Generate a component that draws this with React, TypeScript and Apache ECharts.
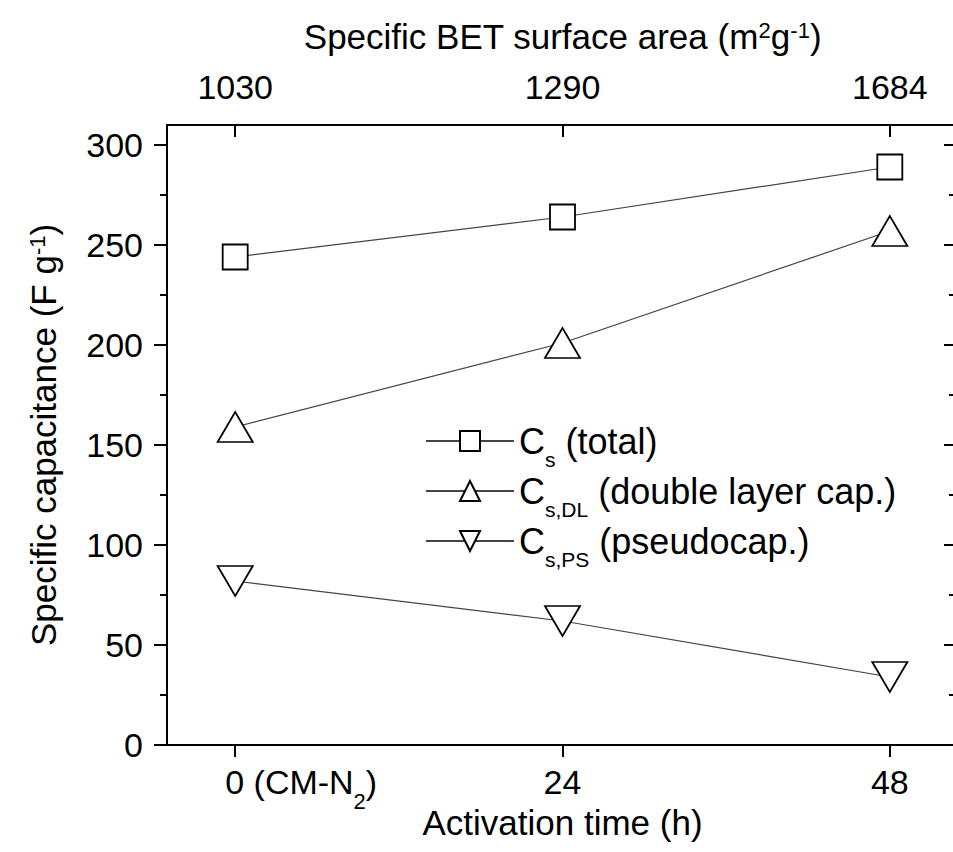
import React, { useEffect, useRef } from 'react';
import * as echarts from 'echarts';

const hours = [0, 24, 48];
const hourLabels = ['0 (CM-N|2|)', '24', '48'];
const betArea = ['1030', '1290', '1684'];
const csTotal = [244, 264, 289];
const csDL = [159, 201, 257];
const csPS = [82, 62, 34];
const yMajor = [0, 50, 100, 150, 200, 250, 300];
const yMinor = [25, 75, 125, 175, 225, 275];
const legendNames = ['C_s (total)', 'C_s,DL (double layer cap.)', 'C_s,PS (pseudocap.)'];

const FONT = 'Liberation Sans';

function legendRich(name: string): string {
  const m = name.match(/^C_(\S+) (.*)$/);
  if (!m) return name;
  return `{a|C}{sub|${m[1]}}{a| ${m[2]}}`;
}

export default function App() {
  const ref = useRef<HTMLDivElement>(null);
  useEffect(() => {
    if (!ref.current) return;
    const chart = echarts.init(ref.current, undefined, { renderer: 'svg' });
    const black = '#000';
    const markerStyle = { color: '#fff', borderColor: '#000', borderWidth: 1.8 };
    const lineStyle = { color: '#444', width: 1.2 };
    const mkData = (vals: number[]) => hours.map((h, i) => [h, vals[i]]);
    const yBase = {
      type: 'value', min: 0, max: 310, interval: 50,
      splitLine: { show: false }, nameMoveOverlap: false,
    };
    const supRich = {
      a: { fontFamily: FONT, fontSize: 35, lineHeight: 40, color: black },
      sup: { fontFamily: FONT, fontSize: 22, lineHeight: 10, verticalAlign: 'top', padding: [3, 0, 0, 0], color: black },
    };
    const option: any = {
      animation: false,
      textStyle: { fontFamily: FONT, color: black },
      grid: { left: 167, top: 125, width: 791, height: 620, containLabel: false, outerBoundsMode: 'none' },
      legend: {
        orient: 'vertical', left: 420, top: 416,
        itemWidth: 88, itemHeight: 25, itemGap: 1,
        symbolRotate: 'inherit',
        data: legendNames,
        formatter: (n: string) => legendRich(n),
        textStyle: {
          fontFamily: FONT, fontSize: 36, color: black,
          rich: {
            a: { fontFamily: FONT, fontSize: 36, lineHeight: 40, color: black },
            sub: { fontFamily: FONT, fontSize: 21, lineHeight: 10, verticalAlign: 'top', padding: [28, 0, 0, 0], color: black },
          },
        },
      },
      xAxis: [
        {
          type: 'value', min: -5, max: 53, position: 'bottom', nameMoveOverlap: false,
          splitLine: { show: false },
          axisLine: { onZero: false, lineStyle: { color: black, width: 2 } },
          axisTick: { customValues: hours, length: 12, inside: false, lineStyle: { color: black, width: 2 } },
          axisLabel: {
            customValues: hours, margin: 17, color: black,
            formatter: (v: number) => {
              const s = hourLabels[hours.indexOf(v)] ?? '';
              const parts = s.split('|');
              if (parts.length === 3) return `{pad| }{a|${parts[0]}}{sub|${parts[1]}}{a|${parts[2]}}`;
              return `{a|${s}}`;
            },
            rich: {
              pad: { width: 132, fontSize: 34 },
              a: { fontFamily: FONT, fontSize: 34, lineHeight: 40, color: black },
              sub: { fontFamily: FONT, fontSize: 22, lineHeight: 10, verticalAlign: 'top', padding: [28, 0, 0, 0], color: black },
            },
          },
          name: 'Activation time (h)', nameLocation: 'middle', nameGap: 60,
          nameTextStyle: { fontFamily: FONT, fontSize: 35, color: black },
        },
        {
          type: 'value', min: -5, max: 53, position: 'top', nameMoveOverlap: false,
          splitLine: { show: false },
          axisLine: { onZero: false, lineStyle: { color: black, width: 2 } },
          axisTick: { customValues: hours, length: 12, inside: true, lineStyle: { color: black, width: 2 } },
          axisLabel: {
            customValues: hours, margin: 18, color: black,
            formatter: (v: number) => `{a|${betArea[hours.indexOf(v)] ?? ''}}`,
            rich: { a: { fontFamily: FONT, fontSize: 34, lineHeight: 40, color: black } },
          },
          name: '{a|Specific BET surface area (m}{sup|2}{a|g}{sup|-1}{a|)}',
          nameLocation: 'middle', nameGap: 69,
          nameTextStyle: { fontFamily: FONT, fontSize: 35, color: black, rich: supRich },
        },
      ],
      yAxis: [
        {
          ...yBase, position: 'left',
          axisLine: { show: true, onZero: false, lineStyle: { color: black, width: 2 } },
          axisTick: { show: true, customValues: yMajor, length: 13, inside: false, lineStyle: { color: black, width: 2 } },
          axisLabel: { customValues: yMajor, margin: 24, fontSize: 34, fontFamily: FONT, color: black },
          name: '{a|Specific capacitance (F g}{sup|-1}{a|)}',
          nameLocation: 'middle', nameGap: 104,
          nameTextStyle: { fontFamily: FONT, fontSize: 35, color: black, rich: supRich },
        },
        {
          ...yBase, position: 'left',
          axisLine: { show: false, onZero: false },
          axisTick: { show: true, customValues: yMinor, length: 7, inside: false, lineStyle: { color: black, width: 2 } },
          axisLabel: { show: false },
        },
        {
          ...yBase, position: 'right',
          axisLine: { show: true, onZero: false, lineStyle: { color: black, width: 2 } },
          axisTick: { show: true, customValues: yMajor, length: 14, inside: true, lineStyle: { color: black, width: 2 } },
          axisLabel: { show: false },
        },
        {
          ...yBase, position: 'right',
          axisLine: { show: false, onZero: false },
          axisTick: { show: true, customValues: yMinor, length: 9, inside: true, lineStyle: { color: black, width: 2 } },
          axisLabel: { show: false },
        },
      ],
      series: [
        {
          name: legendNames[0], type: 'line', xAxisIndex: 0, yAxisIndex: 0,
          data: mkData(csTotal), symbol: 'rect', symbolSize: 25,
          itemStyle: markerStyle, lineStyle, z: 3,
        },
        {
          name: legendNames[1], type: 'line', xAxisIndex: 0, yAxisIndex: 0,
          data: mkData(csDL), symbol: 'triangle', symbolSize: [35, 30],
          itemStyle: markerStyle, lineStyle, z: 3,
        },
        {
          name: legendNames[2], type: 'line', xAxisIndex: 0, yAxisIndex: 0,
          data: mkData(csPS), symbol: 'triangle', symbolSize: [35, 30], symbolRotate: 180,
          itemStyle: markerStyle, lineStyle, z: 3,
        },
      ],
    };
    chart.setOption(option);
    return () => chart.dispose();
  }, []);
  return (
    <div style={{ position: 'fixed', left: 0, top: 0, width: 953, height: 852, background: '#fff', overflow: 'hidden' }}>
      <div ref={ref} style={{ position: 'absolute', left: 0, top: 0, width: 980, height: 852 }} />
    </div>
  );
}
